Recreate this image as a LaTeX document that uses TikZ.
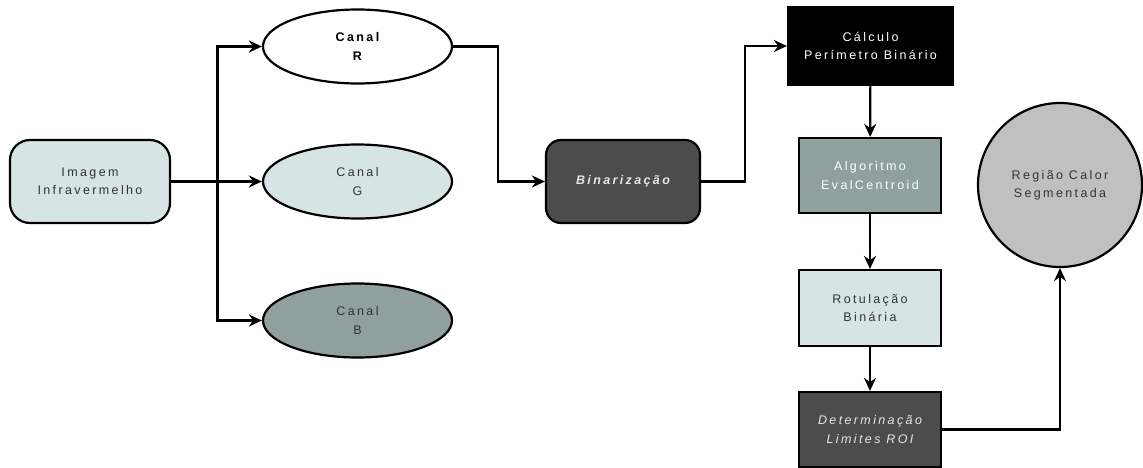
\documentclass[tikz,border=0pt]{standalone}
\usepackage{fontspec}
\setmainfont{Liberation Sans}
\newfontfamily\lsfont[LetterSpace=19]{Liberation Sans}
\usetikzlibrary{shapes.geometric,arrows.meta}
\definecolor{lightc}{HTML}{D7E4E4}
\definecolor{midc}{HTML}{8FA09E}
\definecolor{darkc}{HTML}{4C4C4C}
\definecolor{circc}{HTML}{C0C0C0}
\definecolor{txtd}{HTML}{333333}
\definecolor{txtl}{HTML}{E6E6E6}
\begin{document}
\begin{tikzpicture}[x=1pt,y=-1pt,
  base/.style={draw=black,line width=2.2pt,inner sep=0pt,align=center,
    font=\lsfont\fontsize{12.5}{18.5}\selectfont},
  rbox/.style={base,rectangle,rounded corners=#1},
  sbox/.style={base,rectangle},
  ell/.style={base,ellipse,minimum width=189pt,minimum height=74pt},
  conn/.style={line width=2.2pt},
  arr/.style={conn,-{Stealth[length=13pt,width=12pt]}}]
\useasboundingbox (0,0) rectangle (1143,468);
\node[rbox=20pt,fill=lightc,text=txtd,minimum width=160pt,minimum height=83pt] (img) at (90,181.5) {Imagem\\Infravermelho};
\node[ell,fill=white,text=black,font=\lsfont\bfseries\fontsize{12.5}{18.5}\selectfont] (r) at (357.5,46.5) {Canal\\R};
\node[ell,fill=lightc,text=txtd] (g) at (357.5,181.5) {Canal\\G};
\node[ell,fill=midc,text=txtd] (b) at (357.5,320.5) {Canal\\B};
\node[rbox=15pt,fill=darkc,text=txtl,minimum width=154pt,minimum height=83pt,font=\lsfont\bfseries\itshape\fontsize{12.5}{18.5}\selectfont] (bin) at (623,181.5) {\raisebox{3pt}{Binarização}};
\node[sbox,fill=black,text=white,minimum width=165pt,minimum height=78pt] (calc) at (870.5,46) {Cálculo\\Perímetro Binário};
\node[sbox,fill=midc,text=white,minimum width=142pt,minimum height=75pt] (alg) at (870,175.5) {Algoritmo\\EvalCentroid};
\node[sbox,fill=lightc,text=txtd,minimum width=142pt,minimum height=76pt] (rot) at (870,308) {Rotulação\\Binária};
\node[sbox,fill=darkc,text=txtl,minimum width=142pt,minimum height=75pt,font=\lsfont\itshape\fontsize{12.5}{18.5}\selectfont] (det) at (870,429.5) {Determinação\\Limites ROI};
\node[base,circle,fill=circc,text=txtd,minimum size=164pt] (circ) at (1060,185) {\raisebox{3pt}{\begin{tabular}{@{}c@{}}Região Calor\\Segmentada\end{tabular}}};
\coordinate (j) at (217.5,181.5);
\coordinate (k) at (498,181.5);
\coordinate (m) at (745,181.5);
\draw[conn] (img.east) -- (j);
\draw[arr] (j) |- (r.west);
\draw[arr] (j) -- (g.west);
\draw[arr] (j) |- (b.west);
\draw[arr] (r.east) -| (k) -- (bin.west);
\draw[arr] (bin.east) -- (m) |- (calc.west);
\draw[arr] (calc) -- (alg);
\draw[arr] (alg) -- (rot);
\draw[arr] (rot) -- (det);
\draw[arr] (det.east) -| (circ.south);
\end{tikzpicture}
\end{document}
